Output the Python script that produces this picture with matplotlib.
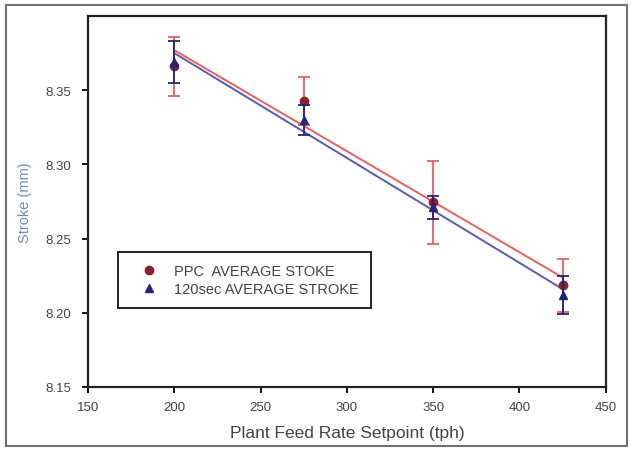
import numpy as np
import matplotlib
matplotlib.use("Agg")
import matplotlib.pyplot as plt
from matplotlib.patches import Rectangle

plt.rcParams['font.family'] = ['Liberation Sans', 'DejaVu Sans']

# feed rate setpoints (tph)
feed = np.array([200, 275, 350, 425])

# PPC average stroke and error
ppc_stroke = np.array([8.366, 8.3426, 8.2745, 8.2185])
ppc_err = np.array([0.020, 0.016, 0.028, 0.018])

# 120 sec average stroke and error
avg120_stroke = np.array([8.369, 8.330, 8.271, 8.212])
avg120_err = np.array([0.014, 0.010, 0.008, 0.013])

labels = ['PPC  AVERAGE STOKE', '120sec AVERAGE STROKE']

fig = plt.figure(figsize=(6.31, 4.52), dpi=100)
ax = fig.add_axes([0.1395, 0.1416, 0.8205, 0.8208])

# outer frame around the whole picture
fig.patches.append(Rectangle((0.009, 0.011), 0.984, 0.976, transform=fig.transFigure,
                             fill=False, edgecolor='#707070', linewidth=1.5))

red_line = '#e8605a'
red_pt = '#8a1f2e'
blue_line = '#5a5ab0'
blue_pt = '#23237a'

# linear fits
x_fit = np.array([feed.min(), feed.max()])
p_ppc = np.polyfit(feed, ppc_stroke, 1)
p_120 = np.polyfit(feed, avg120_stroke, 1)
ax.plot(x_fit, np.polyval(p_ppc, x_fit), color=red_line, lw=1.4, zorder=2)
ax.plot(x_fit, np.polyval(p_120, x_fit), color=blue_line, lw=1.4, zorder=2)

ax.errorbar(feed, ppc_stroke, yerr=ppc_err, fmt='o', ms=6, color=red_pt,
            ecolor=red_line, elinewidth=1.3, capsize=4, capthick=1.3,
            label=labels[0], zorder=3)
ax.errorbar(feed, avg120_stroke, yerr=avg120_err, fmt='^', ms=6, color=blue_pt,
            ecolor=blue_pt, elinewidth=1.3, capsize=4, capthick=1.3,
            label=labels[1], zorder=4)

ax.set_xlim(150, 450)
ax.set_ylim(8.15, 8.40)
ax.set_xticks([150, 200, 250, 300, 350, 400, 450])
ax.set_yticks([8.15, 8.20, 8.25, 8.30, 8.35])
ax.yaxis.set_major_formatter(matplotlib.ticker.FormatStrFormatter('%.2f'))

for s in ax.spines.values():
    s.set_linewidth(1.6)
    s.set_color('#222222')
ax.tick_params(direction='out', length=4, width=1.3, labelsize=9.5,
               labelcolor='#444444')
ax.tick_params(axis='y', pad=8)
ax.tick_params(axis='x', pad=6)

ax.set_xlabel('Plant Feed Rate Setpoint (tph)', fontsize=12.5, color='#444444', labelpad=9)
ax.set_ylabel('Stroke (mm)', fontsize=10.5, color='#7a8aa8', labelpad=10)

handles, _ = ax.get_legend_handles_labels()
handles = [h[0] for h in handles]
leg = ax.legend(handles, labels, loc='upper left', bbox_to_anchor=(0.058, 0.364),
                borderaxespad=0, fancybox=False, fontsize=10.5, handletextpad=0.45,
                borderpad=0.8, labelspacing=0.3, handlelength=2.6,
                edgecolor='#222222', framealpha=1)
leg.get_frame().set_linewidth(1.4)
for t in leg.get_texts():
    t.set_color('#444444')

fig.savefig('out.png', dpi=100)
